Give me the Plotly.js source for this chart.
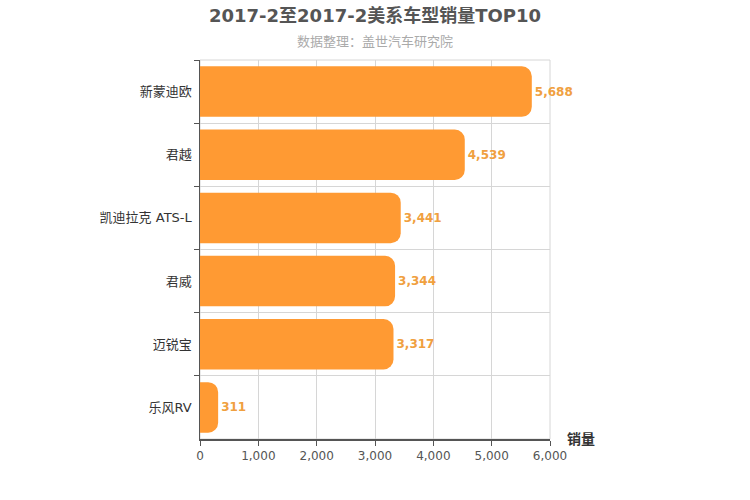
<!DOCTYPE html>
<html>
<head>
<meta charset="utf-8">
<script src="https://cdn.plot.ly/plotly-3.0.1.min.js"></script>
<style>body{margin:0;} #chart{width:750px;height:500px;}</style>
</head>
<body>
<div id="chart"></div>
<script>
const models = ['新蒙迪欧', '君越', '凯迪拉克 ATS-L', '君威', '迈锐宝', '乐风RV'];
const sales = [5688, 4539, 3441, 3344, 3317, 311];

const font = 'DejaVu Sans, Noto Sans CJK SC, sans-serif';

const traces = [{
  type: 'bar',
  orientation: 'h',
  y: models,
  x: sales,
  width: 0.8,
  marker: { color: '#FF9A33', cornerradius: 10 },
  texttemplate: '%{x:,}',
  textposition: 'outside',
  cliponaxis: false,
  textfont: { color: '#F0A040', size: 12, weight: 'bold', family: font },
  hoverinfo: 'none'
}];

const layout = {
  width: 750,
  height: 500,
  margin: { l: 200, r: 200, t: 60, b: 61 },
  paper_bgcolor: '#fff',
  plot_bgcolor: '#fff',
  font: { family: font },
  showlegend: false,
  title: {
    text: '2017-2至2017-2美系车型销量TOP10',
    x: 0.5, xanchor: 'center', y: 0.968, yanchor: 'middle',
    font: { size: 18, color: '#555', weight: 'bold', family: font }
  },
  xaxis: {
    range: [0, 6000],
    dtick: 1000,
    tickformat: ',',
    showgrid: true,
    gridcolor: '#d6d6d6',
    zeroline: false,
    showline: true,
    linecolor: '#555',
    linewidth: 1.5,
    ticks: 'outside',
    ticklen: 5,
    tickcolor: '#555',
    tickfont: { size: 12, color: '#555', family: font }
  },
  yaxis: {
    autorange: 'reversed',
    tickson: 'boundaries',
    showgrid: true,
    gridcolor: '#d6d6d6',
    showline: true,
    linecolor: '#555',
    linewidth: 1.5,
    ticks: 'outside',
    ticklen: 5,
    tickcolor: '#555',
    ticksuffix: ' ',
    tickfont: { size: 13, color: '#333', family: font }
  },
  shapes: [{
    type: 'rect', xref: 'paper', yref: 'paper', x0: 0, x1: 1, y0: 0, y1: 1,
    line: { color: '#d6d6d6', width: 1 }, layer: 'below'
  }],
  annotations: [
    {
      text: '数据整理：盖世汽车研究院',
      xref: 'paper', yref: 'paper', x: 0.5, y: 1, yshift: 19, xanchor: 'center', yanchor: 'middle',
      showarrow: false,
      font: { size: 13, color: '#aaa', family: font }
    },
    {
      text: '销量',
      xref: 'paper', yref: 'paper', x: 1, xshift: 15, y: 0, xanchor: 'left', yanchor: 'middle',
      showarrow: false,
      font: { size: 14, color: '#333', weight: 'bold', family: font }
    }
  ]
};

const config = { responsive: false, displayModeBar: false, staticPlot: true };

Plotly.newPlot('chart', traces, layout, config);
</script>
</body>
</html>
